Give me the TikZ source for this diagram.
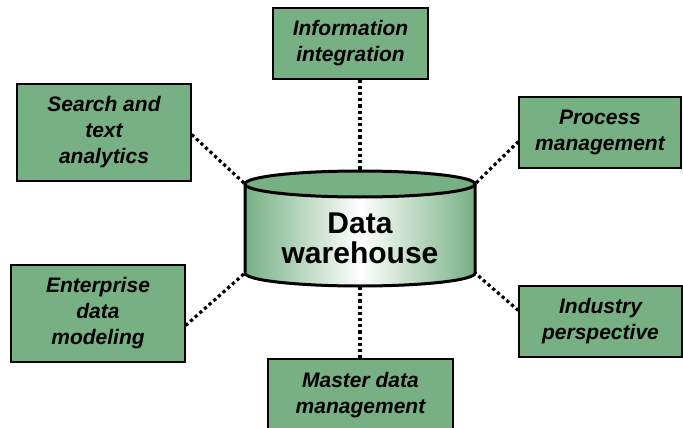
\documentclass[tikz,border=0pt]{standalone}
\usepackage{fontspec}
\setmainfont{Liberation Sans}
\definecolor{boxgreen}{RGB}{118,176,131}
\begin{document}
\begin{tikzpicture}[x=1pt,y=-1pt,
    topic/.style={draw,line width=1.3pt,fill=boxgreen,align=center,inner sep=0pt,
      font=\bfseries\itshape\fontsize{21}{26}\selectfont},
    link/.style={line width=3.2pt,dash pattern=on 3.2pt off 3pt}]
    \useasboundingbox (0,0) rectangle (683,428);
    % the six topics
    \node[topic,minimum width=155pt,minimum height=71pt] (info) at (350.5,43.5) {Information\\integration};
    \node[topic,minimum width=174pt,minimum height=97pt] (search) at (104,132.5) {Search and\\text\\analytics};
    \node[topic,minimum width=162pt,minimum height=71pt] (process) at (600,132.5) {Process\\management};
    \node[topic,minimum width=174pt,minimum height=97pt] (enterprise) at (98,313.5) {Enterprise\\data\\modeling};
    \node[topic,minimum width=163pt,minimum height=71pt] (industry) at (600.5,321.5) {Industry\\perspective};
    \node[topic,minimum width=185pt,minimum height=73pt] (master) at (360.5,395.5) {Master data\\management};
    % the cylinder
    \shade[left color=boxgreen,right color=boxgreen,middle color=white]
      (245,184) -- (245,273) arc[start angle=180,end angle=360,x radius=115pt,y radius=13pt]
      -- (475,184) -- cycle;
    \draw[line width=3pt] (245,184) -- (245,273) arc[start angle=180,end angle=360,x radius=115pt,y radius=13pt]
      -- (475,184);
    \draw[line width=3pt,fill=boxgreen] (360,184) ellipse[x radius=115pt,y radius=13pt];
    \node[font=\bfseries\fontsize{30}{30}\selectfont,align=center] (dw) at (360,238) {Data\\warehouse};
    \coordinate (dwtop) at (360,171);
    \coordinate (dwbot) at (360,286);
    \coordinate (dwtl) at (245,184);
    \coordinate (dwtr) at (475,184);
    \coordinate (dwbl) at (245,273);
    \coordinate (dwbr) at (475,273);
    % links
    \draw[link] (info.south -| dwtop) -- (dwtop);
    \draw[link] (master.north -| dwbot) -- (dwbot);
    \draw[link] ([yshift=-2pt]search.east) -- (dwtl);
    \draw[link] ([yshift=-9pt]process.west) -- (dwtr);
    \draw[link] ([yshift=-12pt]enterprise.east) -- (dwbl);
    \draw[link] ([yshift=11pt]industry.west) -- (dwbr);
\end{tikzpicture}
\end{document}
